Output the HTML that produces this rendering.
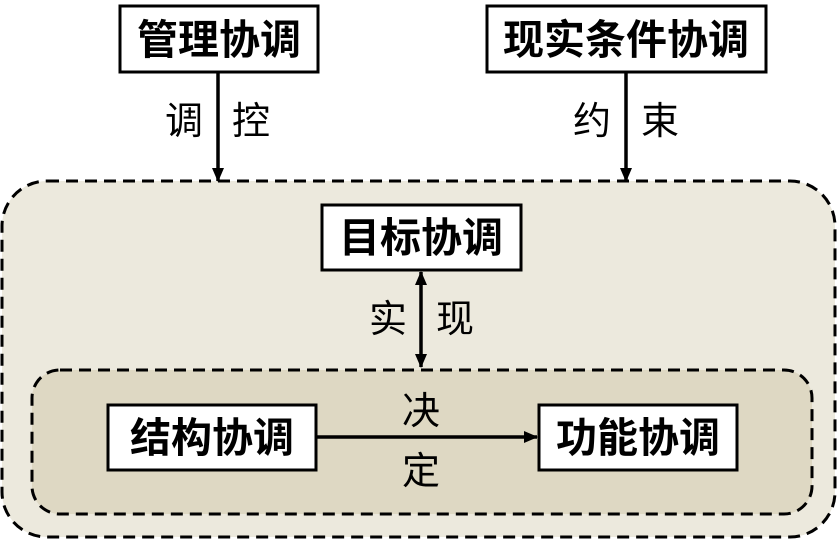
<!DOCTYPE html>
<html><head><meta charset="utf-8"><style>
body{margin:0;width:838px;height:540px;background:#fff;overflow:hidden}
svg{display:block}
.b{font-family:"Liberation Sans","Noto Sans CJK SC",sans-serif;font-weight:bold;font-size:41px}
.l{font-family:"Liberation Sans","Noto Sans CJK SC",sans-serif;font-size:38px}
</style></head><body>
<svg width="838" height="540" viewBox="0 0 838 540">
<defs>
<marker id="a2" markerWidth="14" markerHeight="12" refX="13" refY="6" orient="auto-start-reverse" markerUnits="userSpaceOnUse"><path d="M0,0 L14,6 L0,12 z" fill="#000"/></marker></defs>
<rect x="2" y="181" width="833" height="356" rx="45" fill="#ECE9DD" stroke="#000" stroke-width="3" stroke-dasharray="12,7"/>
<rect x="32" y="370" width="780" height="144" rx="28" fill="#DED8C3" stroke="#000" stroke-width="3" stroke-dasharray="12,7"/>
<g fill="#fff" stroke="#000" stroke-width="3">
<rect x="120" y="6" width="198" height="66"/>
<rect x="487" y="6" width="279" height="66"/>
<rect x="322" y="205" width="199" height="65"/>
<rect x="108" y="405" width="208" height="65"/>
<rect x="539" y="405" width="198" height="65"/>
</g>
<g stroke="#000" stroke-width="3.5">
<line x1="218" y1="72" x2="218" y2="181" marker-end="url(#a2)"/>
<line x1="626" y1="72" x2="626" y2="181" marker-end="url(#a2)"/>
<line x1="421" y1="272" x2="421" y2="367" marker-start="url(#a2)" marker-end="url(#a2)"/>
<line x1="316" y1="437" x2="537" y2="437" marker-end="url(#a2)"/>
</g>
<g text-anchor="middle" dominant-baseline="central">
<text class="b" x="219" y="40">管理协调</text>
<text class="b" x="626" y="40">现实条件协调</text>
<text class="b" x="421" y="238">目标协调</text>
<text class="b" x="212" y="438">结构协调</text>
<text class="b" x="638" y="438">功能协调</text>
<text class="l" x="184" y="122">调</text>
<text class="l" x="251" y="122">控</text>
<text class="l" x="592" y="122">约</text>
<text class="l" x="660" y="122">束</text>
<text class="l" x="388" y="320">实</text>
<text class="l" x="455" y="320">现</text>
<text class="l" x="421" y="412">决</text>
<text class="l" x="421" y="472">定</text>
</g>
</svg>
</body></html>
